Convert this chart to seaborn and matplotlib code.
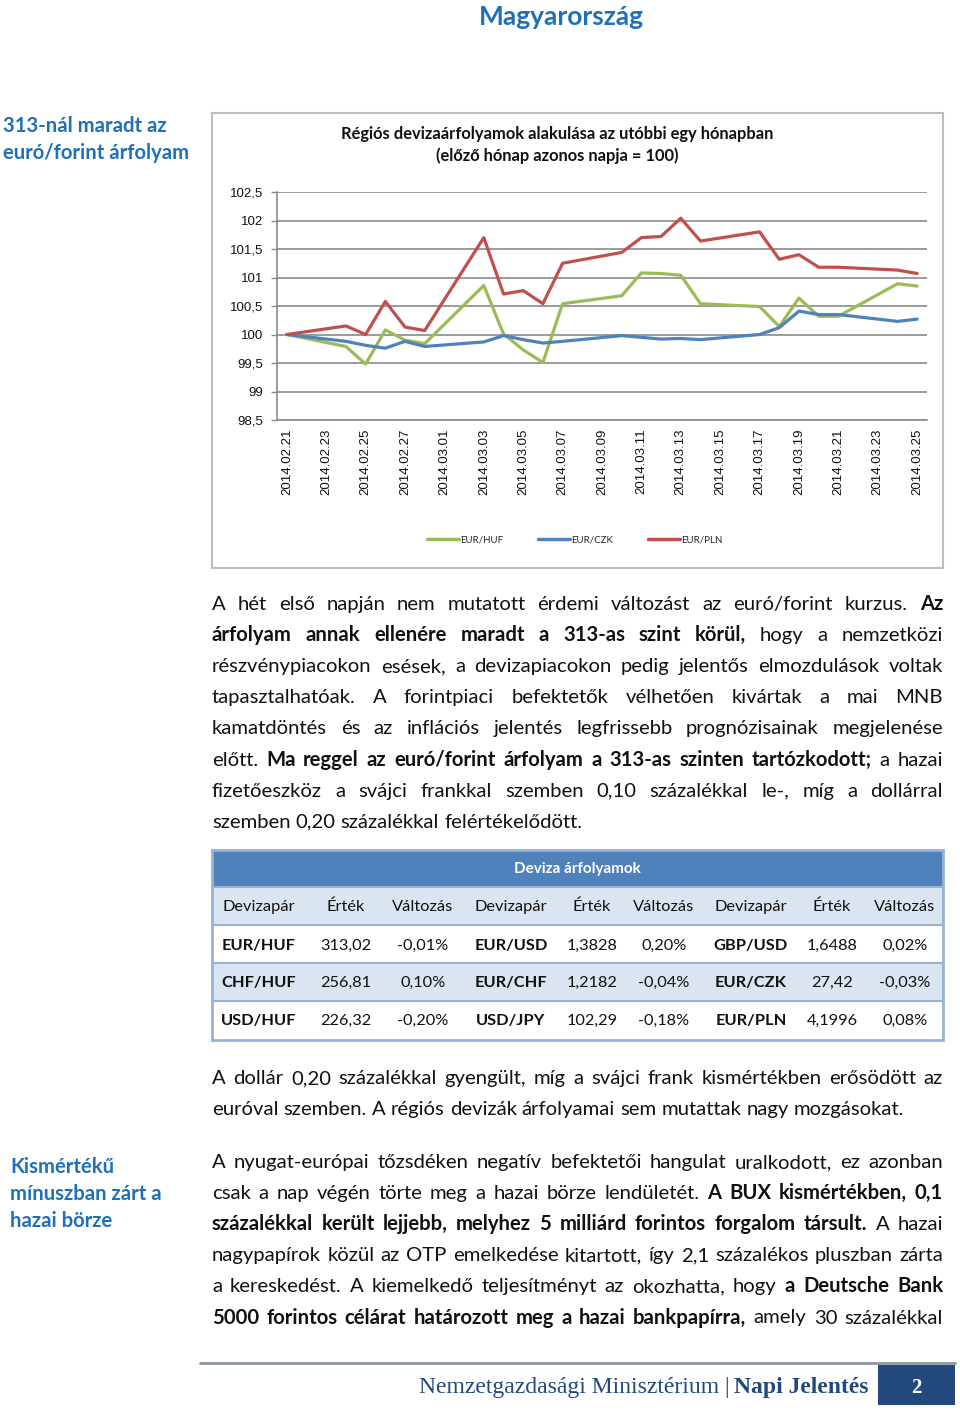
import pandas as pd
import seaborn as sns
import matplotlib
matplotlib.use('Agg')  # no display
import matplotlib.pyplot as plt
from matplotlib.patches import Rectangle
from matplotlib.lines import Line2D

W, H = 960, 1410

# chart data (previous month same day = 100)
dates = ['2014.02.21', '2014.02.24', '2014.02.25', '2014.02.26', '2014.02.27', '2014.02.28',
         '2014.03.03', '2014.03.04', '2014.03.05', '2014.03.06', '2014.03.07',
         '2014.03.10', '2014.03.11', '2014.03.12', '2014.03.13', '2014.03.14',
         '2014.03.17', '2014.03.18', '2014.03.19', '2014.03.20', '2014.03.21',
         '2014.03.24', '2014.03.25']
eur_huf = [100.00, 99.79, 99.48, 100.08, 99.90, 99.84, 100.86, 100.01, 99.73, 99.51, 100.54,
           100.68, 101.08, 101.07, 101.04, 100.54, 100.49, 100.14, 100.64, 100.32, 100.32,
           100.89, 100.85]
eur_czk = [100.00, 99.88, 99.81, 99.76, 99.88, 99.79, 99.87, 99.98, 99.91, 99.85, 99.88,
           99.98, 99.95, 99.92, 99.93, 99.91, 100.00, 100.12, 100.41, 100.35, 100.35,
           100.23, 100.27]
eur_pln = [100.00, 100.15, 100.00, 100.58, 100.13, 100.07, 101.70, 100.71, 100.77, 100.54, 101.25,
           101.44, 101.70, 101.72, 102.04, 101.64, 101.80, 101.32, 101.40, 101.18, 101.18,
           101.13, 101.07]
series_names = ['EUR/HUF', 'EUR/CZK', 'EUR/PLN']
y_ticks = [98.5, 99, 99.5, 100, 100.5, 101, 101.5, 102, 102.5]

# table data
table_title = 'Deviza árfolyamok'
table_header = ['Devizapár', 'Érték', 'Változás'] * 3
table_pairs = [['EUR/HUF', 'EUR/USD', 'GBP/USD'],
               ['CHF/HUF', 'EUR/CHF', 'EUR/CZK'],
               ['USD/HUF', 'USD/JPY', 'EUR/PLN']]
table_values = [['313,02', '1,3828', '1,6488'],
                ['256,81', '1,2182', '27,42'],
                ['226,32', '102,29', '4,1996']]
table_changes = [['-0,01%', '0,20%', '0,02%'],
                 ['0,10%', '-0,04%', '-0,03%'],
                 ['-0,20%', '-0,18%', '0,08%']]

# text (** toggles bold)
para1 = ['A hét első napján nem mutatott érdemi változást az euró/forint kurzus. **Az',
         'árfolyam annak ellenére maradt a 313-as szint körül,** hogy a nemzetközi',
         'részvénypiacokon esések, a devizapiacokon pedig jelentős elmozdulások voltak',
         'tapasztalhatóak. A forintpiaci befektetők vélhetően kivártak a mai MNB',
         'kamatdöntés és az inflációs jelentés legfrissebb prognózisainak megjelenése',
         'előtt. **Ma reggel az euró/forint árfolyam a 313-as szinten tartózkodott;** a hazai',
         'fizetőeszköz a svájci frankkal szemben 0,10 százalékkal le-, míg a dollárral',
         'szemben 0,20 százalékkal felértékelődött.']
para2 = ['A dollár 0,20 százalékkal gyengült, míg a svájci frank kismértékben erősödött az',
         'euróval szemben. A régiós devizák árfolyamai sem mutattak nagy mozgásokat.']
para3 = ['A nyugat-európai tőzsdéken negatív befektetői hangulat uralkodott, ez azonban',
         'csak a nap végén törte meg a hazai börze lendületét. **A BUX kismértékben, 0,1',
         'százalékkal került lejjebb, melyhez 5 milliárd forintos forgalom társult.** A hazai',
         'nagypapírok közül az OTP emelkedése kitartott, így 2,1 százalékos pluszban zárta',
         'a kereskedést. A kiemelkedő teljesítményt az okozhatta, hogy **a Deutsche Bank',
         '5000 forintos célárat határozott meg a hazai bankpapírra,** amely 30 százalékkal']

sns.set_theme(style="white")
plt.rcParams['font.family'] = ['Lato', 'DejaVu Sans']

BLUE_HEAD = '#1f70b8'
BODY = 'Lato'
BODY_SIZE = 14.6

fig = plt.figure(figsize=(W / 100, H / 100), dpi=100)
fig.patch.set_facecolor('white')

# full-page overlay in pixel coordinates
ov = fig.add_axes([0, 0, 1, 1])
ov.set_xlim(0, W)
ov.set_ylim(H, 0)
ov.axis('off')
renderer = fig.canvas.get_renderer()


def text_width(s, bold, size, family=BODY):
    t = ov.text(0, 0, s, fontsize=size, fontweight='bold' if bold else 'normal', family=family)
    w = t.get_window_extent(renderer).width
    t.remove()
    return w


def draw_para(lines, x0, x1, y0, dy, size=BODY_SIZE, justify_last=False):
    bold = False
    space = text_width('a a', False, size) - text_width('aa', False, size)
    for i, line in enumerate(lines):
        tokens = []
        for word in line.split(' '):
            b0 = bold
            if word.startswith('**'):
                b0 = not bold
                word = word[2:]
                bold = b0
            if word.endswith('**'):
                word = word[:-2]
                bold = not bold
            tokens.append((word, b0))
        widths = [text_width(w, b, size) for w, b in tokens]
        if (i < len(lines) - 1 or justify_last) and len(tokens) > 1:
            gap = (x1 - x0 - sum(widths)) / (len(tokens) - 1)
        else:
            gap = space
        x = x0
        y = y0 + i * dy
        for (w, b), wd in zip(tokens, widths):
            ov.text(x, y, w, fontsize=size, fontweight='bold' if b else 'normal',
                    family=BODY, color='#111111', va='baseline', ha='left')
            x += wd + gap


# page title and side headings
ov.text(561, 25, 'Magyarország', fontsize=19, fontweight='bold', color=BLUE_HEAD,
        ha='center', va='baseline')
ov.text(3, 132, '313-nál maradt az', fontsize=14.6, fontweight='bold', color=BLUE_HEAD, va='baseline')
ov.text(3, 159, 'euró/forint árfolyam', fontsize=14.6, fontweight='bold', color=BLUE_HEAD, va='baseline')
for k, s in enumerate(['Kismértékű', 'mínuszban zárt a', 'hazai börze']):
    ov.text(10, 1173 + k * 27, s, fontsize=14.6, fontweight='bold', color=BLUE_HEAD, va='baseline')

# chart frame and title
ov.add_patch(Rectangle((212, 113), 731, 455, fill=False, ec='#bdbdbd', lw=1.5))
ov.text(557, 139, 'Régiós devizaárfolyamok alakulása az utóbbi egy hónapban', fontsize=11.9,
        fontweight='bold', ha='center', va='baseline', color='#111111')
ov.text(557, 161, '(előző hónap azonos napja = 100)', fontsize=11.9,
        fontweight='bold', ha='center', va='baseline', color='#111111')

# line chart
df = pd.DataFrame({'date': pd.to_datetime(dates, format='%Y.%m.%d'),
                   'EUR/HUF': eur_huf, 'EUR/CZK': eur_czk, 'EUR/PLN': eur_pln})
df = df.melt(id_vars='date', var_name='pair', value_name='value')
start = df['date'].min()
df['day'] = (df['date'] - start).dt.days
colors = {'EUR/HUF': '#9bbb59', 'EUR/CZK': '#4f81bd', 'EUR/PLN': '#c0504d'}

ax = fig.add_axes([277 / W, 1 - 420 / H, 650 / W, 228 / H])
ax.patch.set_alpha(0)
sns.lineplot(data=df, x='day', y='value', hue='pair', hue_order=series_names,
             palette=colors, lw=2.3, ax=ax, legend=False)
ax.set_xlim(-0.5, 32.5)
ax.set_ylim(98.5, 102.5)
ax.set_yticks(y_ticks)
ax.set_yticklabels([f'{v:g}'.replace('.', ',') for v in y_ticks],
                   family='Liberation Sans', fontsize=9.5)
ax.yaxis.grid(True, color='#8a8a8a', lw=1.2)
ax.xaxis.grid(False)
ax.set_axisbelow(True)
tick_days = list(range(0, 33, 2))
ax.set_xticks(tick_days)
ax.set_xticklabels([(start + pd.Timedelta(days=d)).strftime('%Y.%m.%d') for d in tick_days],
                   rotation=90, family='Liberation Sans', fontsize=9.5)
ax.set_xticks([d - 0.5 for d in tick_days] + [32.5], minor=True)
ax.tick_params(axis='x', which='major', length=0, pad=6, colors='#111111')
ax.tick_params(axis='x', which='minor', length=4, width=1, color='#8a8a8a', direction='out')
ax.tick_params(axis='y', length=4, width=1, color='#8a8a8a', direction='out', pad=6,
               left=True, labelcolor='#111111')
ax.set_xlabel('')
ax.set_ylabel('')
for side in ['top', 'right']:
    ax.spines[side].set_visible(False)
for side in ['left', 'bottom']:
    ax.spines[side].set_color('#8a8a8a')
    ax.spines[side].set_linewidth(1.2)

handles = [Line2D([], [], color=colors[n], lw=2.5) for n in series_names]
fig.legend(handles, series_names, loc='center', bbox_to_anchor=(575 / W, 1 - 540 / H),
           ncol=3, frameon=False, fontsize=7, handlelength=3.3, handletextpad=0.1,
           columnspacing=3.6)

# paragraphs
draw_para(para1, 212, 943, 610, 31.1)

# table
tx0, tx1 = 212, 943
ov.add_patch(Rectangle((tx0, 850), tx1 - tx0, 37, color='#4f81bd', lw=0))
ov.add_patch(Rectangle((tx0, 887), tx1 - tx0, 38, color='#dbe5f1', lw=0))
ov.add_patch(Rectangle((tx0, 963), tx1 - tx0, 38, color='#dbe5f1', lw=0))
for yl in [887, 925, 963, 1001]:
    ov.plot([tx0, tx1], [yl, yl], color='#95b3d7', lw=1.5)
ov.add_patch(Rectangle((tx0, 850), tx1 - tx0, 190, fill=False, ec='#95b3d7', lw=2))
ov.text(577, 873, table_title, fontsize=11, fontweight='bold', color='white',
        ha='center', va='baseline')
col_x = [259, 346, 423, 511, 592, 664, 751, 832, 905]
for cx, s in zip(col_x, table_header):
    ov.text(cx, 911, s, fontsize=11.8, color='#111111', ha='center', va='baseline')
row_y = [950, 987, 1025]
for r, ry in enumerate(row_y):
    for g in range(3):
        ov.text(col_x[3 * g], ry, table_pairs[r][g], fontsize=11.8, fontweight='bold',
                color='#111111', ha='center', va='baseline')
        ov.text(col_x[3 * g + 1], ry, table_values[r][g], fontsize=11.8,
                color='#111111', ha='center', va='baseline')
        ov.text(col_x[3 * g + 2], ry, table_changes[r][g], fontsize=11.8,
                color='#111111', ha='center', va='baseline')

draw_para(para2, 212, 943, 1084, 31.1)
draw_para(para3, 212, 943, 1168, 31.1, justify_last=True)

# footer
ov.plot([200, 955], [1363, 1363], color='#8c96a0', lw=2)
ov.add_patch(Rectangle((878, 1365), 77, 40, color='#23487d', lw=0))
ov.text(916, 1393, '2', fontsize=15, fontweight='bold', color='white', family='Liberation Serif',
        ha='center', va='baseline')
bw = text_width('Napi Jelentés', True, 17, 'Liberation Serif')
ov.text(868, 1393, 'Napi Jelentés', fontsize=17, fontweight='bold', color='#23487d',
        family='Liberation Serif', ha='right', va='baseline')
ov.text(868 - bw - 4, 1393, 'Nemzetgazdasági Minisztérium |', fontsize=17, color='#23487d',
        family='Liberation Serif', ha='right', va='baseline')

fig.savefig('out.png', dpi=100, facecolor='white')
